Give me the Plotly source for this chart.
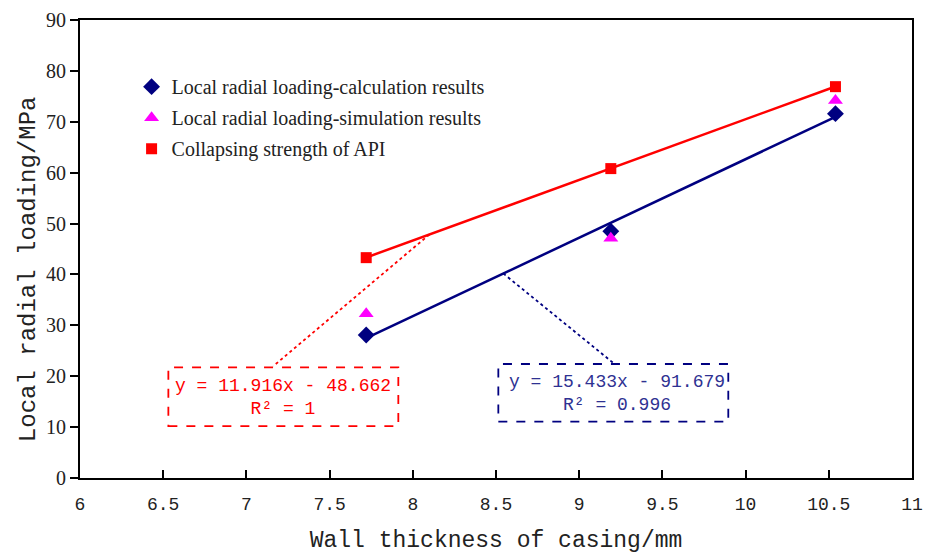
import plotly.graph_objects as go

# Wall thickness of casing (mm)
thickness = [7.72, 9.19, 10.54]
# Local radial loading, MPa
calc_loading = [28.1, 48.5, 71.6]
sim_loading = [32.3, 47.1, 74.2]
api_strength = [43.3, 60.8, 76.9]

# Linear trendlines (slope, intercept, R^2)
api_fit = (11.916, -48.662, "1")
calc_fit = (15.433, -91.679, "0.996")

x_ticks = [6, 6.5, 7, 7.5, 8, 8.5, 9, 9.5, 10, 10.5, 11]
y_ticks = [0, 10, 20, 30, 40, 50, 60, 70, 80, 90]

NAVY = "#000080"
MAGENTA = "#FF00FF"
RED = "#FF0000"
MONO = "Liberation Mono"
SERIF = "Liberation Serif"
INK = "#222222"


def fit_line(fit, xs):
    k, b, _ = fit
    return [k * x + b for x in xs]


def fit_text(fit):
    k, b, r2 = fit
    sign = "-" if b < 0 else "+"
    return f"y = {k:.3f}x {sign} {abs(b):.3f}<br>R² = {r2}"


x_span = [min(thickness), max(thickness)]

fig = go.Figure()

# trendlines
fig.add_trace(go.Scatter(x=x_span, y=fit_line(api_fit, x_span), mode="lines",
                         line=dict(color=RED, width=2.5), showlegend=False,
                         hoverinfo="skip"))
fig.add_trace(go.Scatter(x=x_span, y=fit_line(calc_fit, x_span), mode="lines",
                         line=dict(color=NAVY, width=2.5), showlegend=False,
                         hoverinfo="skip"))

# leader lines from each trendline to its equation box
api_anchor_x = 8.10
calc_anchor_x = 8.544
fig.add_trace(go.Scatter(x=[api_anchor_x, 7.162],
                         y=[fit_line(api_fit, [api_anchor_x])[0], 22.0],
                         mode="lines", line=dict(color=RED, width=1.8, dash="dot"),
                         showlegend=False, hoverinfo="skip"))
fig.add_trace(go.Scatter(x=[calc_anchor_x, 9.205],
                         y=[fit_line(calc_fit, [calc_anchor_x])[0], 22.6],
                         mode="lines", line=dict(color=NAVY, width=1.8, dash="dot"),
                         showlegend=False, hoverinfo="skip"))

# data series
fig.add_trace(go.Scatter(x=thickness, y=calc_loading, mode="markers",
                         name="Local radial loading-calculation results",
                         legendgroup="a",
                         marker=dict(symbol="diamond", size=13, color=NAVY)))
fig.add_trace(go.Scatter(x=thickness, y=sim_loading, mode="markers",
                         name="Local radial loading-simulation results",
                         legendgroup="b",
                         marker=dict(symbol="triangle-up", size=13, color=MAGENTA)))
fig.add_trace(go.Scatter(x=thickness, y=api_strength, mode="markers",
                         name="Collapsing strength of API",
                         legendgroup="c",
                         marker=dict(symbol="square", size=11, color=RED)))

# dashed equation boxes
fig.add_shape(type="rect", x0=6.531, x1=7.913, y0=10.2, y1=21.75,
              line=dict(color=RED, width=1.8, dash="dash"), fillcolor="white",
              layer="above")
fig.add_shape(type="rect", x0=8.514, x1=9.896, y0=11.06, y1=22.4,
              line=dict(color=NAVY, width=1.8, dash="dash"), fillcolor="white",
              layer="above")

fig.add_annotation(x=7.222, y=15.9, text=fit_text(api_fit), showarrow=False,
                   font=dict(family=MONO, size=18, color=RED), align="center")
fig.add_annotation(x=9.225, y=16.7, text=fit_text(calc_fit), showarrow=False,
                   font=dict(family=MONO, size=18, color="#2E3192"), align="center")

# y-axis title, placed slightly below the axis centre
fig.add_annotation(xref="paper", yref="paper", x=-0.0625, y=0.456,
                   xanchor="center", yanchor="middle",
                   text="Local radial loading/MPa", textangle=-90, showarrow=False,
                   font=dict(family=MONO, size=24, color=INK))

fig.update_layout(
    width=925, height=554,
    margin=dict(l=80, r=13, t=20, b=76),
    paper_bgcolor="white", plot_bgcolor="white",
    legend=dict(x=0.062, y=0.897, xanchor="left", yanchor="top",
                bgcolor="rgba(0,0,0,0)", tracegroupgap=2,
                font=dict(family=SERIF, size=20, color=INK)),
    xaxis=dict(range=[6, 11], tickvals=x_ticks, ticktext=[str(v) for v in x_ticks],
               ticks="inside", ticklen=8, tickwidth=2, tickcolor="black",
               showline=True, linecolor="black", linewidth=2, mirror=True,
               showgrid=False, zeroline=False, automargin=False,
               ticklabelstandoff=8,
               tickfont=dict(family=MONO, size=18, color=INK),
               title=dict(text="Wall thickness of casing/mm", standoff=22,
                          font=dict(family=MONO, size=23, color=INK))),
    yaxis=dict(range=[0, 90], tickvals=y_ticks,
               ticks="outside", ticklen=8, tickwidth=2, tickcolor="black",
               showline=True, linecolor="black", linewidth=2, mirror=True,
               showgrid=False, zeroline=False, automargin=False,
               tickfont=dict(family=SERIF, size=20, color=INK)),
)

fig.write_html("out.html")
